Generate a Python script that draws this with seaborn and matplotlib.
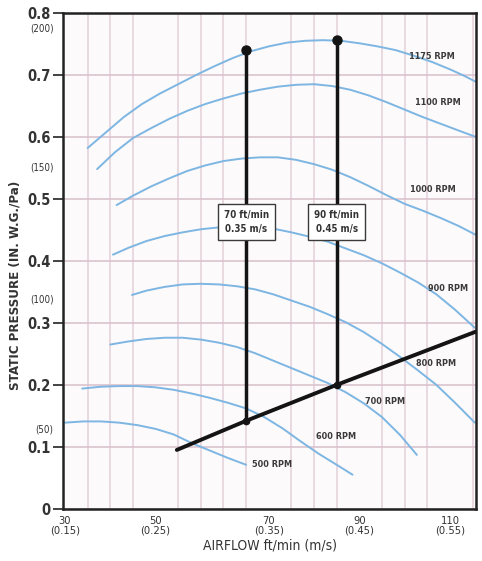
import numpy as np
import pandas as pd
import seaborn as sns
from matplotlib import pyplot as plt

# fan curves (airflow ft/min, static pressure in. w.g.)
rpm_500_x = [30, 34, 38, 42, 46, 50, 54, 58, 62, 66, 70]
rpm_500_y = [0.139, 0.141, 0.141, 0.139, 0.135, 0.129, 0.120, 0.106, 0.094, 0.082, 0.071]
rpm_600_x = [33.8, 38, 42, 46, 50, 54, 58, 62, 66, 70, 74, 78, 82, 86, 90, 93.5]
rpm_600_y = [0.194, 0.197, 0.198, 0.198, 0.196, 0.192, 0.186, 0.179, 0.171, 0.162,
             0.148, 0.130, 0.109, 0.089, 0.071, 0.055]
rpm_700_x = [40, 44, 48, 52, 56, 60, 64, 68, 72, 76, 80, 84, 88, 92, 96, 100, 104, 107.7]
rpm_700_y = [0.265, 0.270, 0.274, 0.276, 0.276, 0.273, 0.268, 0.261, 0.251, 0.239,
             0.227, 0.215, 0.203, 0.188, 0.170, 0.148, 0.119, 0.087]
rpm_800_x = [44.8, 48, 52, 56, 60, 64, 68, 72, 76, 80, 84, 88, 92, 96, 100, 104,
             108, 112, 116, 120.5]
rpm_800_y = [0.345, 0.352, 0.358, 0.362, 0.363, 0.362, 0.359, 0.354, 0.346, 0.336,
             0.326, 0.314, 0.301, 0.285, 0.266, 0.245, 0.223, 0.200, 0.172, 0.139]
rpm_900_x = [40.6, 44, 48, 52, 56, 60, 64, 68, 72, 76, 80, 84, 88, 92, 96, 100,
             104, 108, 112, 116, 120.5]
rpm_900_y = [0.410, 0.421, 0.432, 0.440, 0.446, 0.451, 0.454, 0.456, 0.455, 0.452,
             0.446, 0.439, 0.431, 0.420, 0.409, 0.396, 0.381, 0.365, 0.346, 0.322, 0.292]
rpm_1000_x = [41.4, 45, 49, 53, 57, 61, 65, 69, 73, 77, 81, 85, 89, 93, 97, 101,
              105, 109, 113, 117, 120.7]
rpm_1000_y = [0.490, 0.505, 0.520, 0.533, 0.545, 0.554, 0.561, 0.565, 0.567, 0.567,
              0.563, 0.556, 0.547, 0.535, 0.521, 0.506, 0.492, 0.481, 0.469, 0.456, 0.442]
rpm_1100_x = [37.1, 41, 45, 49, 53, 57, 61, 65, 69, 73, 77, 81, 85, 89, 93, 97,
              101, 105, 109, 113, 117, 120.7]
rpm_1100_y = [0.548, 0.575, 0.598, 0.614, 0.629, 0.642, 0.653, 0.662, 0.670, 0.676,
              0.681, 0.684, 0.685, 0.682, 0.676, 0.667, 0.656, 0.644, 0.632, 0.621,
              0.610, 0.600]
rpm_1175_x = [35, 39, 43, 47, 51, 55, 59, 63, 67, 71, 75, 79, 83, 87, 91, 95, 99,
              103, 107, 111, 115, 118, 120.7]
rpm_1175_y = [0.582, 0.607, 0.632, 0.653, 0.670, 0.685, 0.700, 0.714, 0.727, 0.738,
              0.746, 0.752, 0.755, 0.756, 0.755, 0.751, 0.746, 0.740, 0.731, 0.721,
              0.709, 0.699, 0.689]

rpm_names = ["500 RPM", "600 RPM", "700 RPM", "800 RPM",
             "900 RPM", "1000 RPM", "1100 RPM", "1175 RPM"]
label_x = [75.7, 89.8, 100.6, 112, 114.5, 111.2, 112.3, 111]
label_y = [0.071, 0.116, 0.173, 0.235, 0.356, 0.515, 0.656, 0.729]

# system curve and the two operating points
system_x = [54.7, 70, 90, 121.5]
system_y = [0.095, 0.142, 0.200, 0.288]
op_x = [70, 90]
op_low = [0.142, 0.200]
op_high = [0.740, 0.756]
op_text = ["70 ft/min\n0.35 m/s", "90 ft/min\n0.45 m/s"]
box_y = 0.463

y_ticks = [0, 0.1, 0.2, 0.3, 0.4, 0.5, 0.6, 0.7, 0.8]
y_labels = ["0", "0.1", "0.2", "0.3", "0.4", "0.5", "0.6", "0.7", "0.8"]
pa_ticks = [0.13, 0.34, 0.553, 0.777]
pa_labels = ["(50)", "(100)", "(150)", "(200)"]
x_ticks = [30, 50, 75, 95, 115]
x_labels = ["30\n(0.15)", "50\n(0.25)", "70\n(0.35)", "90\n(0.45)", "110\n(0.55)"]

curves = [(rpm_500_x, rpm_500_y), (rpm_600_x, rpm_600_y), (rpm_700_x, rpm_700_y),
          (rpm_800_x, rpm_800_y), (rpm_900_x, rpm_900_y), (rpm_1000_x, rpm_1000_y),
          (rpm_1100_x, rpm_1100_y), (rpm_1175_x, rpm_1175_y)]
df = pd.concat([pd.DataFrame({"airflow": cx, "pressure": cy, "fan": name})
                for (cx, cy), name in zip(curves, rpm_names)])

sns.set_style("white")
plt.rcParams['font.family'] = ['DejaVu Sans']
plt.rcParams['font.stretch'] = 'condensed'

fig = plt.figure(figsize=(4.82, 5.61), dpi=100)
ax = fig.add_axes([0.131, 0.093, 0.857, 0.884])
ax.set_facecolor("#fdfafb")

sns.lineplot(data=df, x="airflow", y="pressure", units="fan", estimator=None,
             color="#7db6e2", linewidth=1.4, sort=False, ax=ax, zorder=2)

sns.lineplot(x=system_x, y=system_y, color="#141414", linewidth=2.8,
             estimator=None, sort=False, ax=ax, zorder=4)
for xv, lo, hi, txt in zip(op_x, op_low, op_high, op_text):
    ax.plot([xv, xv], [lo, hi], color="#141414", linewidth=2.5, zorder=4,
            solid_capstyle="butt")
    ax.plot([xv], [hi], "o", color="#141414", markersize=6.5, zorder=5)
    ax.plot([xv], [lo], "o", color="#141414", markersize=4.5, zorder=5)
    ax.text(xv, box_y, txt, ha="center", va="center", fontsize=7, weight="bold",
            color="#333333", linespacing=1.5, zorder=6,
            bbox=dict(boxstyle="square,pad=0.6", fc="white", ec="#3a3a3a", lw=1))

for name, lx, ly in zip(rpm_names, label_x, label_y):
    ax.text(lx, ly, name, ha="center", va="center", fontsize=6.5,
            weight="bold", color="#3a3a3a", zorder=6)

ax.set_xlim(29.6, 120.8)
ax.set_ylim(0, 0.8)
ax.set_xticks(np.arange(30, 121, 5), minor=True)
ax.grid(True, which="minor", axis="x", color="#e3cfd8", linewidth=1.1, zorder=0)
ax.set_yticks(y_ticks)
ax.grid(True, which="major", axis="y", color="#dbc3ce", linewidth=1.2, zorder=0)
ax.set_axisbelow(True)

ax.set_yticklabels(y_labels, fontsize=10.5, weight="bold", color="#333333")
ax.set_yticks(pa_ticks, minor=True)
ax.set_yticklabels(pa_labels, minor=True, fontsize=7, color="#333333")
ax.tick_params(axis="y", which="major", left=True, length=7, width=1.2,
               color="#222222", pad=2)
ax.tick_params(axis="y", which="minor", left=False, length=0, pad=7)
ax.set_xticks(x_ticks)
ax.set_xticklabels(x_labels, fontsize=8, color="#333333", linespacing=0.95)
ax.tick_params(axis="x", which="both", bottom=False, length=0, pad=5)

for s in ax.spines.values():
    s.set_color("#222222")
    s.set_linewidth(1.8)

ax.set_xlabel("AIRFLOW ft/min (m/s)", fontsize=10, color="#333333", labelpad=2)
ax.set_ylabel("STATIC PRESSURE (IN. W.G./Pa)", fontsize=9.5, weight="bold",
              color="#333333")
ax.yaxis.set_label_coords(-0.1, 0.45)

fig.savefig("out.png", dpi=100)
